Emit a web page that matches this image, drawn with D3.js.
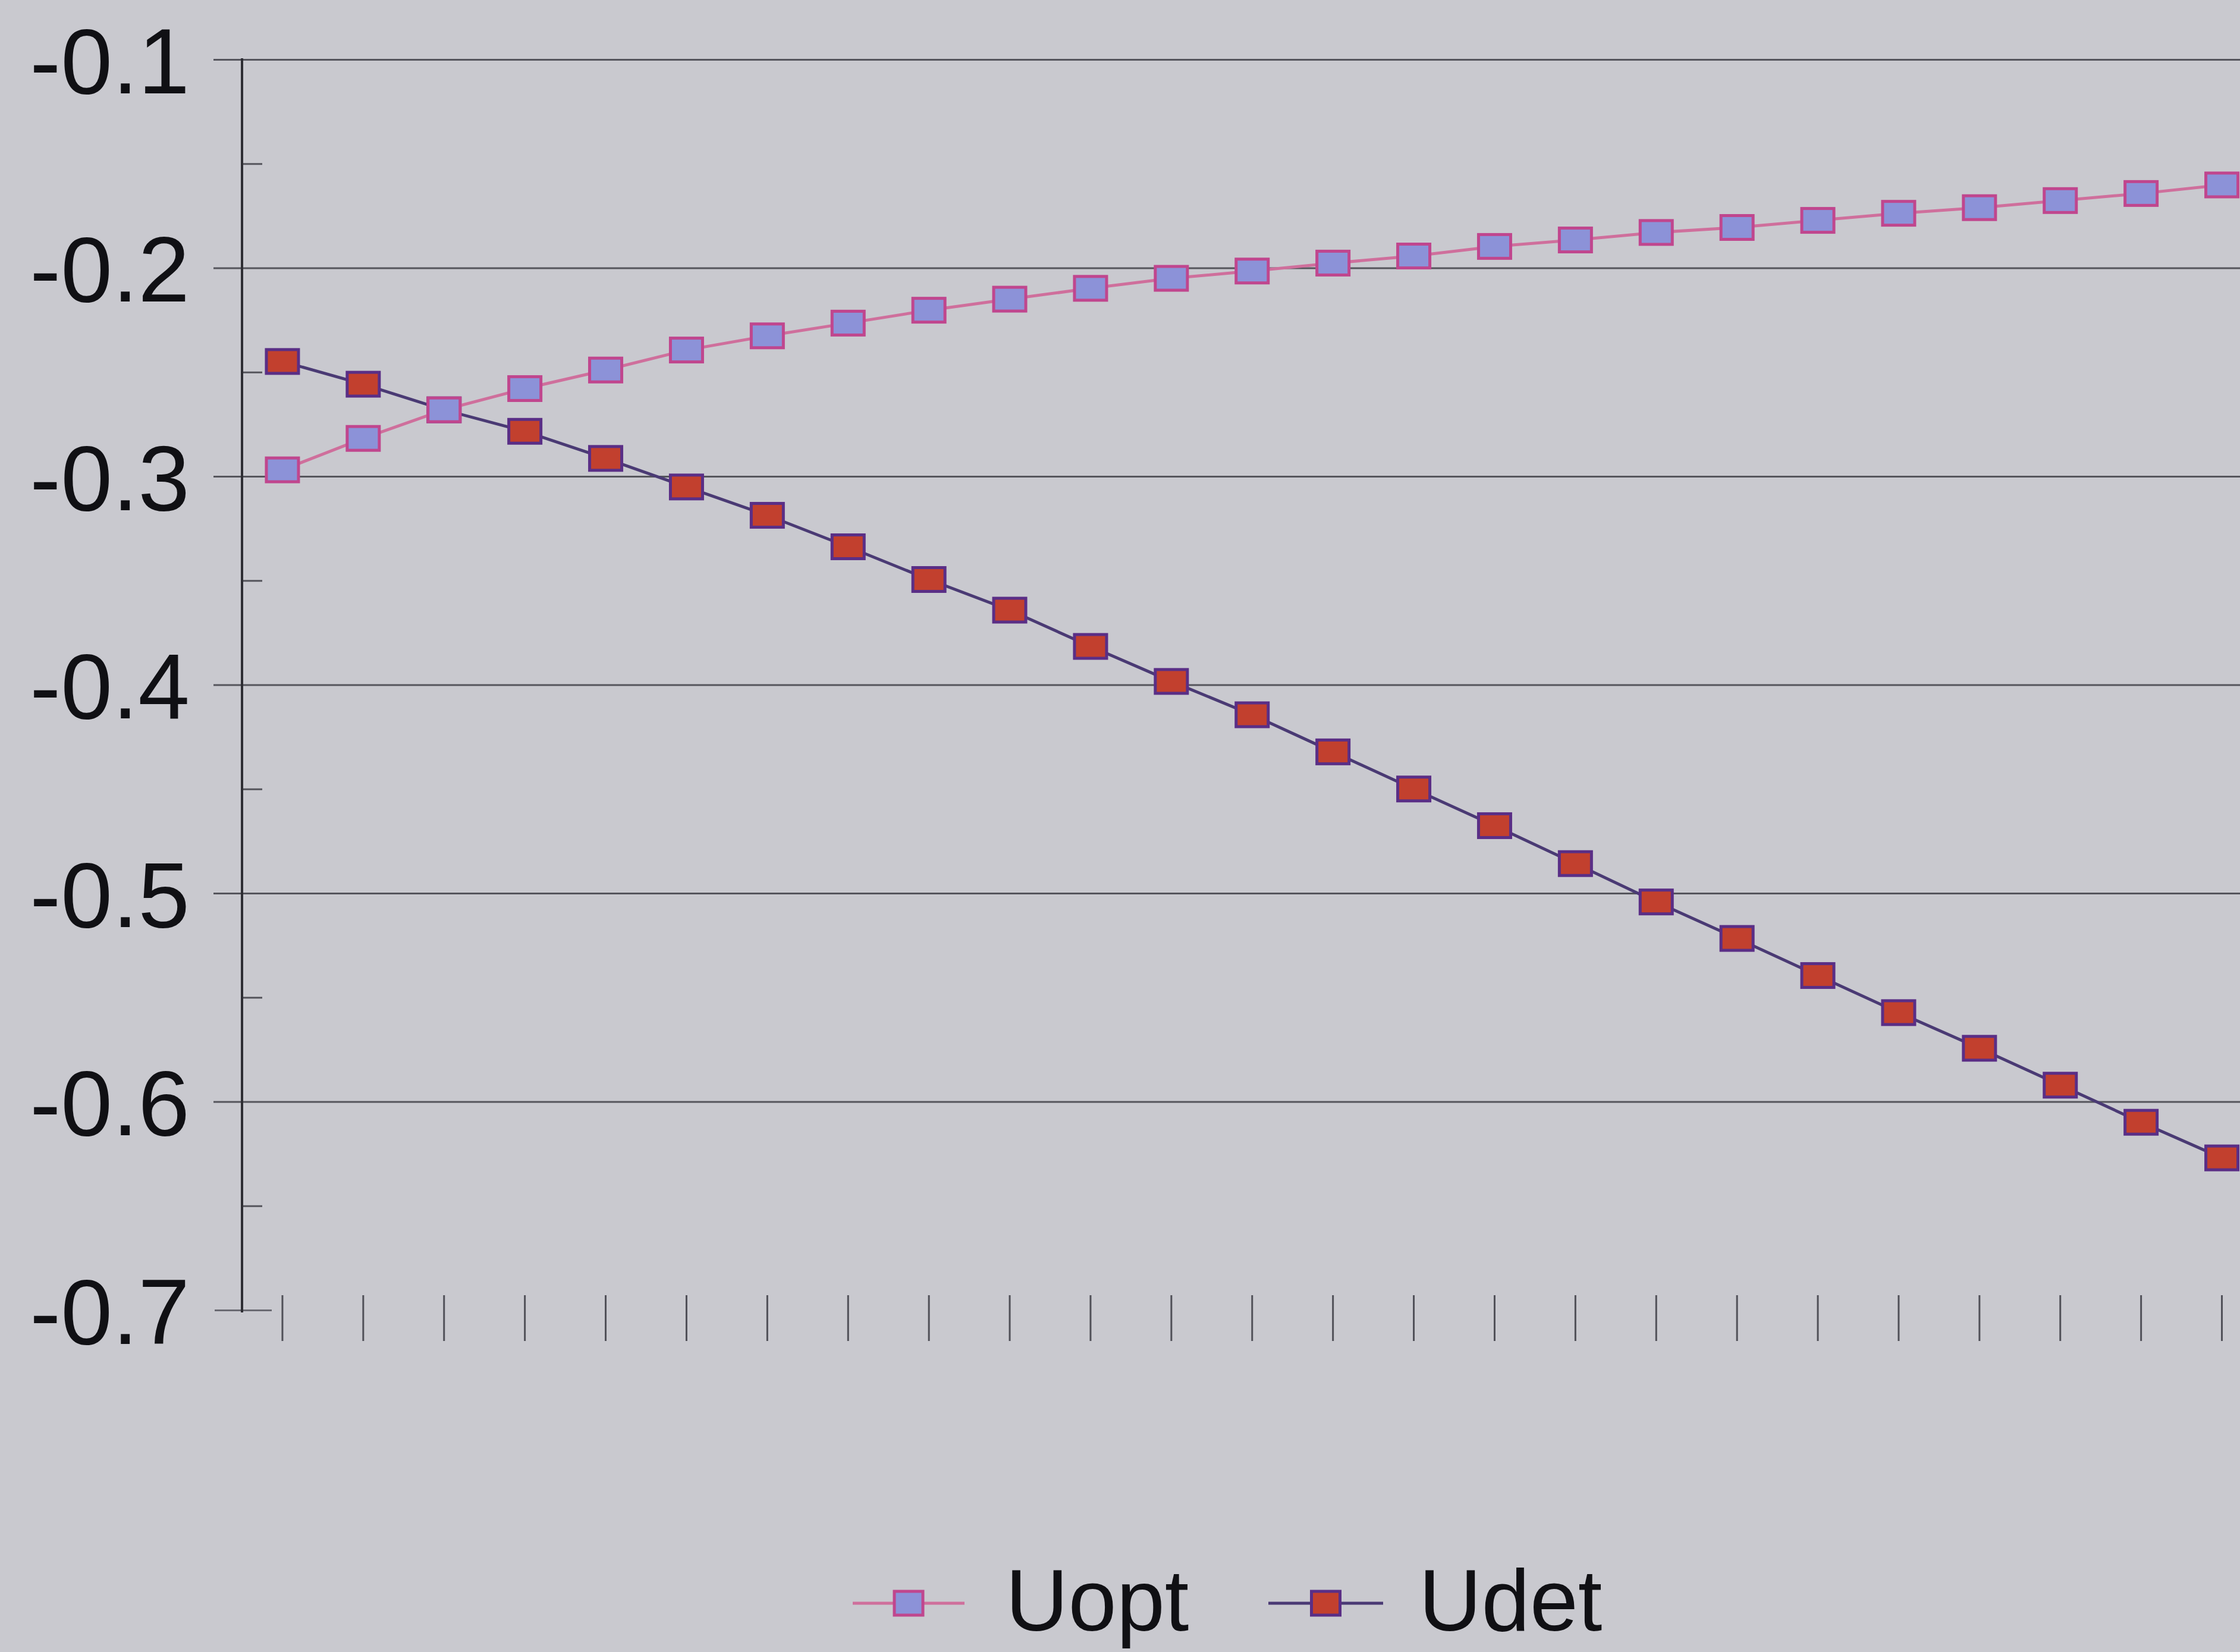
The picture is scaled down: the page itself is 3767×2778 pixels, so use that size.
<!DOCTYPE html>
<html>
<head>
<meta charset="utf-8">
<script src="https://cdn.jsdelivr.net/npm/d3@7"></script>
<style>
  html, body { margin: 0; padding: 0; background: #c9c9cf; overflow: hidden; }
  svg { display: block; }
</style>
</head>
<body>
<script>
// ---- data ----
const categories = d3.range(1, 26);
const seriesNames = ["Uopt", "Udet"];
const uopt = [-0.2969, -0.2818, -0.2681, -0.2579, -0.2490, -0.2394, -0.2326, -0.2265, -0.2203, -0.2150,
              -0.2098, -0.2050, -0.2015, -0.1977, -0.1943, -0.1897, -0.1866, -0.1830, -0.1806, -0.1772,
              -0.1738, -0.1711, -0.1677, -0.1643, -0.1602];
const udet = [-0.2449, -0.2558, -0.2681, -0.2784, -0.2914, -0.3051, -0.3187, -0.3338, -0.3495, -0.3642,
              -0.3816, -0.3984, -0.4144, -0.4322, -0.4500, -0.4676, -0.4858, -0.5042, -0.5217, -0.5395,
              -0.5573, -0.5744, -0.5921, -0.6099, -0.6270];
const yTicks = [-0.7, -0.6, -0.5, -0.4, -0.3, -0.2, -0.1];
const yMinorTicks = [-0.65, -0.55, -0.45, -0.35, -0.25, -0.15];

// ---- layout ----
const W = 3767, H = 2778;
const plotLeft = 407, plotTop = 100, plotBottom = 2203;
const step = 135.9;
const plotRight = plotLeft + step * categories.length;

const svg = d3.select("body").append("svg").attr("width", W).attr("height", H);
svg.append("rect").attr("width", W).attr("height", H).attr("fill", "#c9c9cf");

const x = d3.scaleBand().domain(categories).range([plotLeft, plotRight]).padding(0);
const y = d3.scaleLinear().domain([-0.7, -0.1]).range([plotBottom, plotTop]);
const cx = d => x(d) + x.bandwidth() / 2;

// gridlines (major) with outward ticks
const grid = svg.append("g").attr("transform", `translate(${plotLeft},0)`)
  .call(d3.axisLeft(y).tickValues(yTicks.filter(v => v > -0.7)).tickSize(-(W - plotLeft + 10)).tickSizeOuter(0).tickFormat(""));
grid.select(".domain").remove();
grid.selectAll(".tick line").attr("stroke", "#55555c").attr("stroke-width", 3)
  .attr("x1", -48);

// short tick at -0.7
const bt = svg.append("g").attr("transform", `translate(${plotLeft},0)`)
  .call(d3.axisLeft(y).tickValues([-0.7]).tickSize(48).tickSizeOuter(0).tickFormat(""));
bt.select(".domain").remove();
bt.selectAll(".tick line").attr("stroke", "#6a6a72").attr("stroke-width", 3).attr("x2", 50).attr("x1", -46);

// minor ticks crossing the axis
const minor = svg.append("g").attr("transform", `translate(${plotLeft},0)`)
  .call(d3.axisLeft(y).tickValues(yMinorTicks).tickSize(33).tickSizeOuter(0).tickFormat(""));
minor.select(".domain").remove();
minor.selectAll(".tick line").attr("stroke", "#55555c").attr("stroke-width", 3).attr("x2", 34);

// y labels (plain hyphen minus as in the reference)
const labels = svg.append("g").attr("transform", `translate(${plotLeft - 88},0)`)
  .call(d3.axisLeft(y).tickValues(yTicks).tickSize(0).tickPadding(0).tickFormat(d => d.toFixed(1)));
labels.select(".domain").remove();
labels.selectAll(".tick text")
  .attr("font-family", "'Liberation Sans', Arial, sans-serif")
  .attr("font-size", 156)
  .attr("fill", "#101014")
  .attr("dy", "0.36em")
  .attr("text-anchor", "end");

// y axis line
svg.append("line").attr("x1", plotLeft).attr("x2", plotLeft).attr("y1", y(-0.1) - 2).attr("y2", y(-0.7) + 4)
  .attr("stroke", "#2e2e34").attr("stroke-width", 4);

// x axis ticks at category centers
const xa = svg.append("g").attr("transform", `translate(0,2178)`)
  .call(d3.axisBottom(x).tickSize(77).tickSizeOuter(0).tickFormat(""));
xa.select(".domain").remove();
xa.selectAll(".tick line").attr("stroke", "#505058").attr("stroke-width", 3);

// series
const styles = {
  Uopt: { line: "#cf6f9c", fill: "#8c92d8", stroke: "#c0468e", lw: 5 },
  Udet: { line: "#4a3a74", fill: "#c2402e", stroke: "#5a2e86", lw: 5 }
};
const seriesData = { Uopt: uopt, Udet: udet };
const mw = 54, mh = 40;

const lineGen = d3.line().x((d, i) => cx(categories[i])).y(d => y(d));

seriesNames.slice().reverse().forEach(name => {
  const st = styles[name];
  const vals = seriesData[name];
  const g = svg.append("g");
  g.append("path").datum(vals).attr("d", lineGen)
    .attr("fill", "none").attr("stroke", st.line).attr("stroke-width", st.lw);
  g.selectAll("rect").data(vals).join("rect")
    .attr("x", (d, i) => cx(categories[i]) - mw / 2)
    .attr("y", d => y(d) - mh / 2)
    .attr("width", mw).attr("height", mh)
    .attr("fill", st.fill).attr("stroke", st.stroke).attr("stroke-width", 5);
});

// legend
const legendItems = [
  { name: "Uopt", x0: 1434, x1: 1622, tx: 1691 },
  { name: "Udet", x0: 2133, x1: 2326, tx: 2386 }
];
const ly = 2696;
legendItems.forEach(it => {
  const st = styles[it.name];
  const g = svg.append("g");
  g.append("line").attr("x1", it.x0).attr("x2", it.x1).attr("y1", ly).attr("y2", ly)
    .attr("stroke", st.line).attr("stroke-width", st.lw);
  const mx = (it.x0 + it.x1) / 2;
  g.append("rect").attr("x", mx - 24).attr("y", ly - 20).attr("width", 48).attr("height", 40)
    .attr("fill", st.fill).attr("stroke", st.stroke).attr("stroke-width", 5);
  g.append("text").attr("x", it.tx).attr("y", 2742)
    .attr("font-family", "'Liberation Sans', Arial, sans-serif")
    .attr("font-size", 146).attr("fill", "#101014").text(it.name);
});
</script>
</body>
</html>
